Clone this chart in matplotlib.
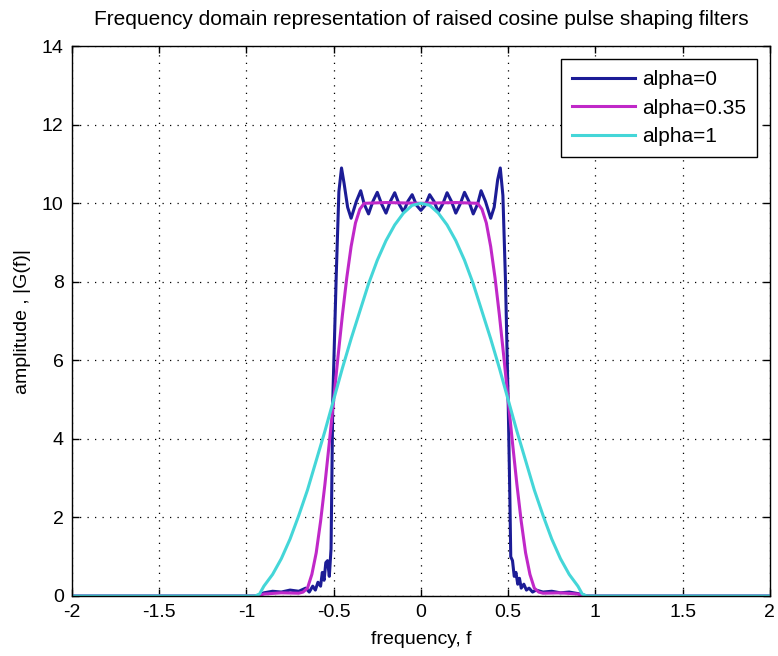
import numpy as np
import matplotlib
matplotlib.use("Agg")
import matplotlib.pyplot as plt

plt.rcParams['font.family'] = ['Liberation Sans', 'DejaVu Sans']

title = "Frequency domain representation of raised cosine pulse shaping filters"
xlabel = "frequency, f"
ylabel = "amplitude , |G(f)|"
labels = ["alpha=0", "alpha=0.35", "alpha=1"]
xticks = [-2, -1.5, -1, -0.5, 0, 0.5, 1, 1.5, 2]
xticklabels = ["-2", "-1.5", "-1", "-0.5", "0", "0.5", "1", "1.5", "2"]
yticks = [0, 2, 4, 6, 8, 10, 12, 14]

# alpha = 0 (truncated ideal low-pass, with ringing)
f0 = [-2.0, -0.95, -0.93, -0.9, -0.85, -0.8, -0.75, -0.7, -0.66, -0.64, -0.62, -0.605,
      -0.59, -0.575, -0.565, -0.555, -0.545, -0.535, -0.525, -0.515, -0.505, -0.485,
      -0.47, -0.455, -0.44, -0.42, -0.40, -0.37, -0.345, -0.325, -0.30, -0.275, -0.25,
      -0.225, -0.20, -0.175, -0.15, -0.125, -0.10, -0.075, -0.05, -0.025, 0.0,
      0.025, 0.05, 0.075, 0.10, 0.125, 0.15, 0.175, 0.20, 0.225, 0.25, 0.275, 0.30,
      0.325, 0.345, 0.37, 0.40, 0.42, 0.44, 0.455, 0.47, 0.485, 0.50, 0.51, 0.515,
      0.525, 0.535, 0.545, 0.555, 0.565, 0.575, 0.59, 0.605, 0.62, 0.64, 0.66, 0.7,
      0.75, 0.8, 0.85, 0.9, 0.93, 0.95, 2.0]
g0 = [0.0, 0.0, 0.02, 0.08, 0.12, 0.1, 0.15, 0.12, 0.2, 0.1, 0.25, 0.15,
      0.35, 0.25, 0.6, 0.4, 0.85, 0.9, 0.5, 1.2, 5.0, 8.2,
      10.3, 10.9, 10.5, 9.9, 9.62, 10.05, 10.32, 9.98, 9.73, 10.05, 10.28,
      9.98, 9.75, 10.05, 10.27, 9.98, 9.78, 10.05, 10.22, 9.95, 9.82,
      9.95, 10.22, 10.05, 9.78, 9.98, 10.27, 10.05, 9.75, 9.98, 10.28, 10.05, 9.73,
      9.98, 10.32, 10.05, 9.62, 9.9, 10.6, 10.9, 10.2, 8.0, 5.0, 2.5, 1.0,
      0.9, 0.5, 0.6, 0.3, 0.45, 0.2, 0.3, 0.15, 0.2, 0.1, 0.15, 0.1,
      0.12, 0.08, 0.1, 0.06, 0.03, 0.0, 0.0]

# alpha = 0.35
f35 = [-2.0, -0.93, -0.9, -0.8, -0.7, -0.675, -0.65, -0.625, -0.6, -0.575, -0.55,
       -0.525, -0.5, -0.475, -0.45, -0.425, -0.4, -0.375, -0.35, -0.325, -0.2, 0.0,
       0.2, 0.325, 0.35, 0.375, 0.4, 0.425, 0.45, 0.475, 0.5, 0.525, 0.55, 0.575,
       0.6, 0.625, 0.65, 0.675, 0.7, 0.8, 0.9, 0.93, 2.0]
g35 = [0.0, 0.0, 0.05, 0.08, 0.07, 0.1, 0.2, 0.55, 1.1, 1.9, 2.85,
       3.9, 5.0, 6.1, 7.15, 8.1, 8.9, 9.5, 9.85, 10.0, 10.02, 10.0,
       10.02, 10.0, 9.85, 9.5, 8.9, 8.1, 7.15, 6.1, 5.0, 3.9, 2.85, 1.9,
       1.1, 0.55, 0.2, 0.1, 0.07, 0.08, 0.05, 0.0, 0.0]

# alpha = 1
f1 = [-2.0, -0.95, -0.925, -0.9, -0.85, -0.8, -0.75, -0.7, -0.65, -0.6, -0.55, -0.5,
      -0.45, -0.4, -0.35, -0.3, -0.25, -0.2, -0.15, -0.1, -0.05, 0.0,
      0.05, 0.1, 0.15, 0.2, 0.25, 0.3, 0.35, 0.4, 0.45, 0.5, 0.55, 0.6, 0.65,
      0.7, 0.75, 0.8, 0.85, 0.9, 0.925, 0.95, 2.0]
g1 = [0.0, 0.0, 0.05, 0.25, 0.55, 0.95, 1.45, 2.05, 2.7, 3.45, 4.2, 5.0,
      5.8, 6.55, 7.25, 7.95, 8.55, 9.05, 9.45, 9.75, 9.95, 10.0,
      9.95, 9.75, 9.45, 9.05, 8.55, 7.95, 7.25, 6.55, 5.8, 5.0, 4.2, 3.45, 2.7,
      2.05, 1.45, 0.95, 0.55, 0.25, 0.05, 0.0, 0.0]

colors = ["#1c1c96", "#c028c8", "#44d6d8"]

fig = plt.figure(figsize=(7.78, 6.56), dpi=100)
ax = fig.add_axes([0.0925, 0.0915, 0.897, 0.838])

ax.plot(f0, g0, color=colors[0], lw=2.2, label=labels[0])
ax.plot(f35, g35, color=colors[1], lw=2.2, label=labels[1])
ax.plot(f1, g1, color=colors[2], lw=2.2, label=labels[2])

ax.set_xlim(-2, 2)
ax.set_ylim(0, 14)
ax.set_xticks(xticks)
ax.set_xticklabels(xticklabels)
ax.set_yticks(yticks)
ax.tick_params(direction='in', top=True, right=True, length=5, width=1,
               labelsize=14, colors='black', pad=6)
ax.grid(True, color='black', linestyle=(0, (1, 5)), linewidth=0.9)
for s in ax.spines.values():
    s.set_linewidth(1.0)
    s.set_color('black')

ax.set_title(title, fontsize=15, pad=15)
ax.set_xlabel(xlabel, fontsize=14, labelpad=7)
ax.set_ylabel(ylabel, fontsize=14, labelpad=8)

leg = ax.legend(loc='upper right', fontsize=15, fancybox=False, framealpha=1,
                edgecolor='black', borderaxespad=0.6, handlelength=3.0,
                labelspacing=0.45, handletextpad=0.35, borderpad=0.55)
leg.get_frame().set_linewidth(1.0)

fig.savefig("out.png", dpi=100)
